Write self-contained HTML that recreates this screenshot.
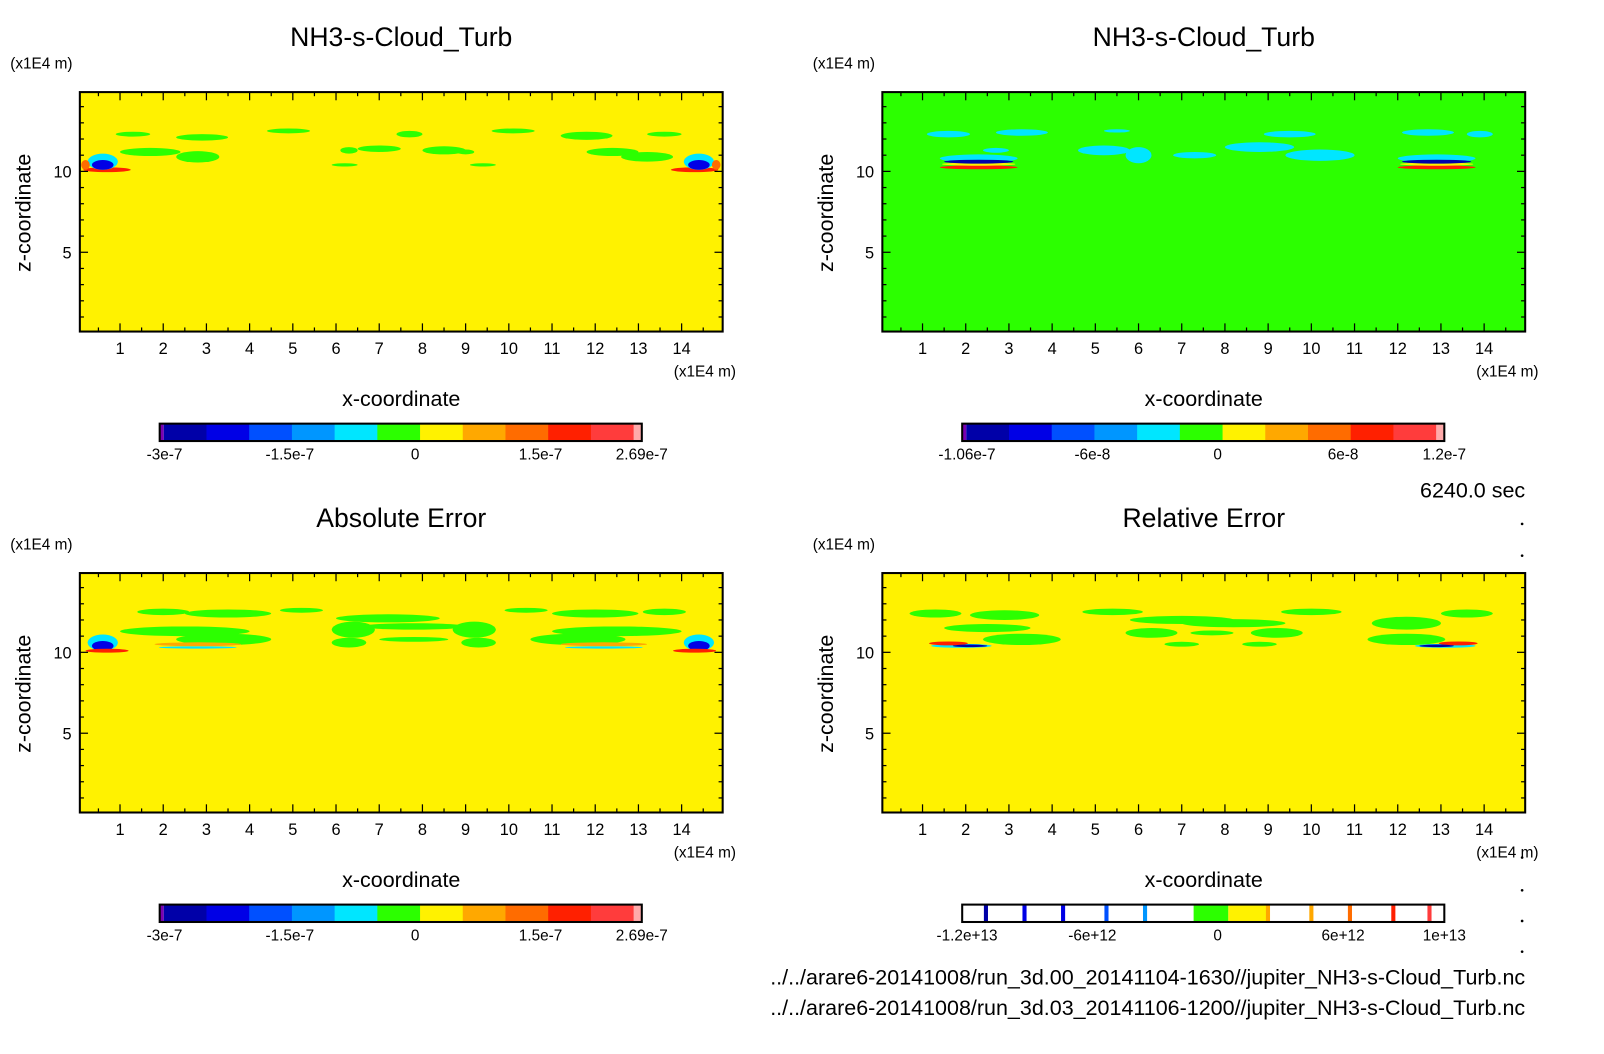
<!DOCTYPE html>
<html><head><meta charset="utf-8"><style>
html,body{margin:0;padding:0;background:#fff;}
svg{display:block;font-family:"Liberation Sans",sans-serif;}
</style></head><body>
<svg id="fig" width="1604" height="1054" viewBox="0 0 1567 1030" preserveAspectRatio="none" xmlns="http://www.w3.org/2000/svg"></svg>
<script>
// ---- data ----
const xTicks = [1,2,3,4,5,6,7,8,9,10,11,12,13,14];
const zTicks = [5,10];
const cbLabelsA = ["-3e-7","-1.5e-7","0","1.5e-7","2.69e-7"];
const cbLabelsB = ["-1.06e-7","-6e-8","0","6e-8","1.2e-7"];
const cbLabelsD = ["-1.2e+13","-6e+12","0","6e+12","1e+13"];
const titles = ["NH3-s-Cloud_Turb","NH3-s-Cloud_Turb","Absolute Error","Relative Error"];
const palette = ["#7a00b0","#0000a8","#0000e6","#0050ff","#0096ff","#00e6ff","#2cff00","#fff200","#ffa800","#ff6c00","#ff2000","#ff3c3c","#ffaaaa"];
// blobs: [x, z, rx, rz, colorIndex]
const blobsA = [[1.3,12.3,.4,.15,6],[2.9,12.1,.6,.2,6],[4.9,12.5,.5,.15,6],[7.7,12.3,.3,.2,6],[10.1,12.5,.5,.15,6],[11.8,12.2,.6,.25,6],[13.6,12.3,.4,.15,6],[1.7,11.2,.7,.25,6],[2.8,10.9,.5,.35,6],[7.0,11.4,.5,.2,6],[8.5,11.3,.5,.25,6],[6.2,10.4,.3,.1,6],[9.4,10.4,.3,.1,6],[13.2,10.9,.6,.3,6],[12.4,11.2,.6,.25,6],[6.3,11.3,.2,.2,6],[9.0,11.2,.2,.15,6],
 [0.7,10.1,.55,.15,10],[0.6,10.6,.35,.5,5],[0.6,10.4,.25,.3,2],[0.2,10.4,.1,.3,9],[14.3,10.1,.55,.15,10],[14.4,10.6,.35,.5,5],[14.4,10.4,.25,.3,2],[14.8,10.4,.1,.3,9]];
const blobsB = [[1.6,12.3,.5,.2,5],[3.3,12.4,.6,.2,5],[5.5,12.5,.3,.1,5],[9.5,12.3,.6,.2,5],[12.7,12.4,.6,.2,5],[13.9,12.3,.3,.2,5],[5.2,11.3,.6,.3,5],[6.0,11.0,.3,.5,5],[7.3,11.0,.5,.2,5],[8.8,11.5,.8,.3,5],[10.2,11.0,.8,.35,5],[2.7,11.3,.3,.15,5],
 [2.3,10.8,.9,.25,5],[2.3,10.25,.9,.12,10],[2.3,10.45,.85,.1,7],[2.3,10.6,.8,.12,1],[12.9,10.8,.9,.25,5],[12.9,10.25,.9,.12,10],[12.9,10.45,.85,.1,7],[12.9,10.6,.8,.12,1]];
const blobsC = [[2.0,12.5,.6,.2,6],[3.5,12.4,1.0,.25,6],[5.2,12.6,.5,.15,6],[7.2,12.1,1.2,.25,6],[7.8,11.6,1.2,.2,6],[6.4,11.4,.5,.5,6],[9.2,11.4,.5,.5,6],[10.4,12.6,.5,.15,6],[12.0,12.4,1.0,.25,6],[13.6,12.5,.5,.2,6],[2.5,11.3,1.5,.3,6],[3.4,10.8,1.1,.35,6],[12.5,11.3,1.5,.3,6],[11.6,10.8,1.1,.35,6],[6.3,10.6,.4,.3,6],[9.3,10.6,.4,.3,6],[7.8,10.8,.8,.15,6],
 [0.6,10.6,.35,.5,5],[0.6,10.4,.25,.3,2],[0.7,10.1,.5,.12,10],[2.8,10.5,1.0,.12,8],[2.8,10.3,.9,.07,5],[14.4,10.6,.35,.5,5],[14.4,10.4,.25,.3,2],[14.3,10.1,.5,.12,10],[12.2,10.5,1.0,.12,8],[12.2,10.3,.9,.07,5]];
const blobsD = [[1.3,12.4,.6,.25,6],[2.9,12.3,.8,.3,6],[2.5,11.5,1.0,.25,6],[3.3,10.8,.9,.35,6],[5.4,12.5,.7,.2,6],[7.0,12.0,1.2,.25,6],[8.2,11.8,1.2,.25,6],[6.3,11.2,.6,.3,6],[9.2,11.2,.6,.3,6],[7.7,11.2,.5,.15,6],[10.0,12.5,.7,.2,6],[12.2,11.8,.8,.4,6],[13.6,12.4,.6,.25,6],[12.2,10.8,.9,.35,6],[7.0,10.5,.4,.15,6],[8.8,10.5,.4,.15,6],
 [1.9,10.4,.7,.12,5],[1.6,10.55,.45,.12,10],[2.1,10.4,.4,.08,1],[13.1,10.4,.7,.12,5],[13.4,10.55,.45,.12,10],[12.9,10.4,.4,.08,1]];
// relative error colorbar: thin lines at these fractional positions + solid segments
const relLines = [[0.045,1],[0.125,2],[0.205,2],[0.295,3],[0.375,4],[0.63,8],[0.72,8],[0.8,9],[0.89,10],[0.965,11]];

const NS="http://www.w3.org/2000/svg";
const svg=document.getElementById('fig');
function el(tag,attrs,parent){const e=document.createElementNS(NS,tag);for(const k in attrs)e.setAttribute(k,attrs[k]);(parent||svg).appendChild(e);return e;}
function txt(s,x,y,size,anchor,parent){const t=el('text',{x:x,y:y,'font-size':size,'text-anchor':anchor||'middle',fill:'#000'},parent);t.textContent=s;return t;}

const panels=[{x0:78,y0:90,bg:7,blobs:blobsA,labels:cbLabelsA,cb:'full'},
 {x0:862,y0:90,bg:6,blobs:blobsB,labels:cbLabelsB,cb:'full'},
 {x0:78,y0:560,bg:7,blobs:blobsC,labels:cbLabelsA,cb:'full'},
 {x0:862,y0:560,bg:7,blobs:blobsD,labels:cbLabelsD,cb:'rel'}];
const W=628,H=234,XMIN=0.07,XMAX=14.95,ZMIN=0.1,ZMAX=14.9;

panels.forEach((p,i)=>{
 const g=el('g',{});
 
 
 const sx=v=>p.x0+(v-XMIN)/(XMAX-XMIN)*W;
 const sz=v=>p.y0+H-(v-ZMIN)/(ZMAX-ZMIN)*H;
 const t=txt(titles[i],p.x0+W/2,p.y0-45,26,'middle',g);
 
 
 txt('(x1E4 m)',p.x0-68,p.y0-23,15,'start',g);
 const bg=el('rect',{x:p.x0,y:p.y0,width:W,height:H,fill:palette[p.bg]},g);
 
 
 const cp=el('clipPath',{id:'cp'+i},g);el('rect',{x:p.x0,y:p.y0,width:W,height:H},cp);
 const bl=el('g',{'clip-path':'url(#cp'+i+')'},g);
 p.blobs.forEach(b=>{
  const e=el('ellipse',{cx:sx(b[0]),cy:sz(b[1]),rx:b[2]/(XMAX-XMIN)*W,ry:b[3]/(ZMAX-ZMIN)*H,fill:palette[b[4]]},bl);
  
  
 });
 el('rect',{x:p.x0,y:p.y0,width:W,height:H,fill:'none',stroke:'#000','stroke-width':2},g);
 for(let v=0.5;v<15;v+=0.5){const X=sx(v);const L=(v%1===0)?8:4;
  el('line',{x1:X,y1:p.y0+H,x2:X,y2:p.y0+H-L,stroke:'#000','stroke-width':1.2},g);
  el('line',{x1:X,y1:p.y0,x2:X,y2:p.y0+L,stroke:'#000','stroke-width':1.2},g);}
 for(let v=1;v<15;v+=1){const Y=sz(v);const L=(v%5===0)?8:4;
  el('line',{x1:p.x0,y1:Y,x2:p.x0+L,y2:Y,stroke:'#000','stroke-width':1.2},g);
  el('line',{x1:p.x0+W,y1:Y,x2:p.x0+W-L,y2:Y,stroke:'#000','stroke-width':1.2},g);}
 xTicks.forEach(v=>{const t=txt(String(v),sx(v),p.y0+H+22,16,'middle',g);});
 zTicks.forEach(v=>{const t=txt(String(v),p.x0-8,sz(v)+6,16,'end',g);});
 txt('(x1E4 m)',p.x0+W+13,p.y0+H+44,15,'end',g);
 const xt=txt('x-coordinate',p.x0+W/2,p.y0+H+73,21,'middle',g);
 
 const yt=txt('z-coordinate',0,0,21,'middle',g);
 yt.setAttribute('transform','translate('+(p.x0-48)+','+(p.y0+118)+') rotate(-90)');
 
 const cb=el('g',{},g);
 
 
 const cx0=p.x0+78,cw=471,cy=p.y0+H+90,ch=17;
 if(p.cb==='full'){
  const seg=(cw-4-8)/11;
  el('rect',{x:cx0,y:cy,width:4,height:ch,fill:palette[0]},cb);
  for(let k=1;k<=11;k++)el('rect',{x:cx0+4+(k-1)*seg,y:cy,width:seg+0.5,height:ch,fill:palette[k]},cb);
  el('rect',{x:cx0+cw-8,y:cy,width:8,height:ch,fill:palette[12]},cb);
 } else {
  el('rect',{x:cx0,y:cy,width:cw,height:ch,fill:'#fff'},cb);
  el('rect',{x:cx0+cw*0.48,y:cy,width:cw*0.072,height:ch,fill:palette[6]},cb);
  el('rect',{x:cx0+cw*0.552,y:cy,width:cw*0.083,height:ch,fill:palette[7]},cb);
  relLines.forEach(r=>el('rect',{x:cx0+cw*r[0],y:cy,width:4,height:ch,fill:palette[r[1]]},cb));
 }
 el('rect',{x:cx0,y:cy,width:cw,height:ch,fill:'none',stroke:'#000','stroke-width':2},cb);
 const lp=[0.01,0.27,0.53,0.79,1.0];
 p.labels.forEach((s,k)=>{const t=txt(s,cx0+cw*lp[k],cy+35,15,'middle',cb);});
});
const tm=txt('6240.0 sec',1490,486,21,'end');

[512,543,838,870,900,930].forEach(y=>el('circle',{cx:1487,cy:y,r:1.3,fill:'#000'}));
const f1=txt('../../arare6-20141008/run_3d.00_20141104-1630//jupiter_NH3-s-Cloud_Turb.nc',1490,962,21,'end');

const f2=txt('../../arare6-20141008/run_3d.03_20141106-1200//jupiter_NH3-s-Cloud_Turb.nc',1490,992,21,'end');

</script>
</body></html>
